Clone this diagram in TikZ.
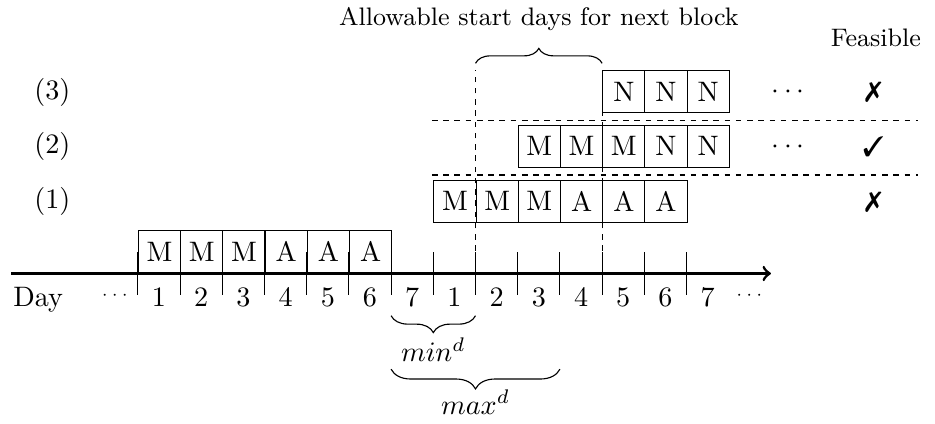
\documentclass[tikz,border=0pt]{standalone}
\usepackage{pifont}
\usetikzlibrary{positioning,calc,decorations.pathreplacing,arrows}

\begin{document}
\begin{tikzpicture}[x=1pt,y=1pt,auto]
    \tikzstyle{every node}=[inner sep=0]
    \tikzstyle{cell}=[draw,rectangle,minimum width=15,minimum height=15,anchor=south west]
    \tikzstyle{note}=[anchor=base]
    \tikzstyle{sep}=[dash pattern=on 2pt off 2pt]
    \tikzstyle{brace}=[decorate,decoration={brace,amplitude=6}]
    \tikzstyle{dots}=[font=\fontsize{6}{7}\selectfont]
    \useasboundingbox (-49,-53.2) rectangle (283.3,97.2);
    {
        % time axis and day numbers
        \draw[->,line width=1pt] (-45,0) -- (225,0);
        \foreach \k in {0,...,13} {
            \coordinate (k\k) at (15*\k,0);
            \draw (k\k) ++(0,-7.5) -- ++(0,15);
        }
        \foreach \lab [count=\k from 0] in {1,2,3,4,5,6,7,1,2,3,4,5,6,7}
            \node[note] (d\k) at (15*\k+7.5,-11.6) {\lab};
        \node[note] (day) at (-35.4,-11.6) {Day};
        \node[dots] (ldots) at (-8.2,-7.7) {$\cdots$};
        \node[dots] (rdots) at (217.3,-7.7) {$\cdots$};

        % current block
        \foreach \lab [count=\k from 0] in {M,M,M,A,A,A}
            \node[cell] (c\k) at (15*\k,0) {\lab};

        % candidate next blocks
        \foreach \lab [count=\k from 7] in {M,M,M,A,A,A}
            \node[cell] (p\k) at (15*\k,18) {\lab};
        \foreach \lab [count=\k from 9] in {M,M,M,N,N}
            \node[cell] (q\k) at (15*\k,37.5) {\lab};
        \foreach \lab [count=\k from 11] in {N,N,N}
            \node[cell] (r\k) at (15*\k,57) {\lab};

        \node (row1) at (-30.4,25.5) {(1)};
        \node (row2) at (-30.4,45) {(2)};
        \node (row3) at (-30.4,64.5) {(3)};

        \node (more2) at (231.2,45) {$\cdots$};
        \node (more3) at (231.2,64.5) {$\cdots$};

        \node[note,font=\small] (feas) at (262.3,80.8) {Feasible};
        \node (ok1) at (261.4,25.5) {\ding{55}};
        \node (ok2) at (261.4,45) {\ding{51}};
        \node (ok3) at (261.4,64.5) {\ding{55}};

        % separators
        \coordinate (h1a) at (104.5,35);
        \coordinate (h1b) at (277.3,35);
        \coordinate (h2a) at (104.5,54.5);
        \coordinate (h2b) at (277.3,54.5);
        \draw[sep] (h1a) -- (h1b);
        \draw[sep] (h2a) -- (h2b);
        \draw[sep] (k8) -- ++(0,72.3);
        \draw[sep] (k11) -- ++(0,72.3);

        % allowable window
        \draw[brace,decoration={amplitude=5.3}] (120,74.7) -- (165,74.7);
        \node[note,font=\small] (title) at (142.5,88.3) {Allowable start days for next block};

        % min and max rest
        \draw[brace] (120,-15) -- (90,-15);
        \node[note] (mind) at (105,-31.4) {$min^d$};
        \draw[brace,decoration={amplitude=7}] (150,-34) -- (90,-34);
        \node[note] (maxd) at (120,-50) {$max^d$};
    }
\end{tikzpicture}
\end{document}
